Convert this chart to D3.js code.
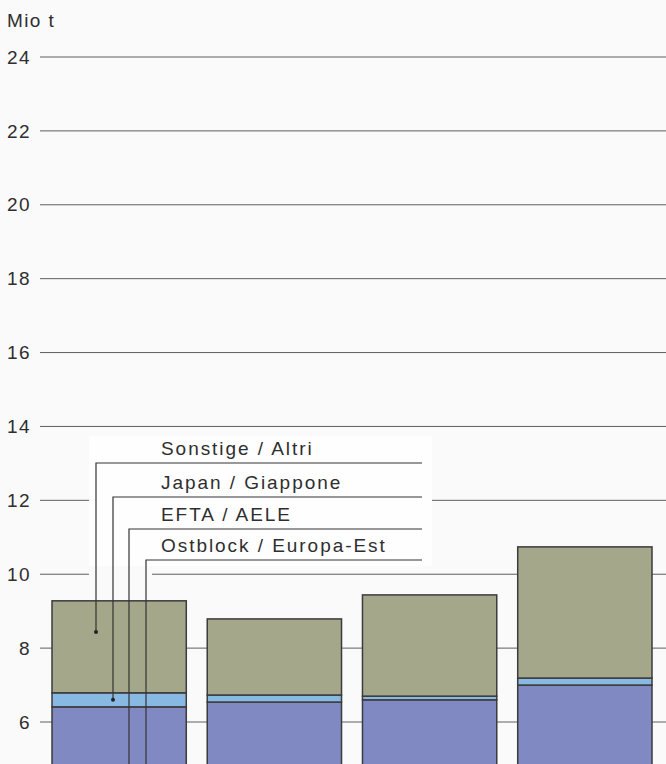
<!DOCTYPE html>
<html>
<head>
<meta charset="utf-8">
<script src="https://cdn.jsdelivr.net/npm/d3@7"></script>
<style>
  body { margin: 0; background: #fafafa; }
  svg { display: block; }
  text { font-family: "Liberation Sans", Arial, sans-serif; fill: #2e2e2e; }
</style>
</head>
<body>
<div id="chart"></div>
<script>
// data (the category labels are cut off in the picture)
var categories = ["1", "2", "3", "4"];
var unten    = [6.41, 6.54, 6.60, 7.00];   // EFTA + Ostblock (lower block)
var japan    = [0.38, 0.19, 0.10, 0.19];
var sonstige = [2.49, 2.06, 2.74, 3.55];
var yTicks = [6, 8, 10, 12, 14, 16, 18, 20, 22, 24];
var labels = ["Sonstige / Altri", "Japan / Giappone", "EFTA / AELE", "Ostblock / Europa-Est"];

var width = 666, height = 764;

var svg = d3.select("#chart").append("svg")
    .attr("width", width)
    .attr("height", height);

// scales
var x = d3.scaleBand().domain(categories).range([52, 652]).paddingInner(0.135);
var y = d3.scaleLinear().domain([6, 24]).range([722, 57]);

// stack
var rows = categories.map(function(c, i) {
  return {cat: c, unten: unten[i], japan: japan[i], sonstige: sonstige[i]};
});
var keys = ["unten", "japan", "sonstige"];
var colors = {unten: "#8189c2", japan: "#88b9e2", sonstige: "#a5a78a"};
var series = d3.stack().keys(keys)(rows);

// label block background
svg.append("rect")
    .attr("x", 89).attr("y", 436)
    .attr("width", 343).attr("height", 130)
    .attr("fill", "#fefefe");

// grid lines, with gaps where the label block sits
var gaps = {12: [89, 432], 10: [89, 152]};
yTicks.forEach(function(t) {
  var segs = gaps[t] ? [[40, gaps[t][0]], [gaps[t][1], width]] : [[40, width]];
  segs.forEach(function(s) {
    svg.append("line")
        .attr("x1", s[0]).attr("x2", s[1])
        .attr("y1", y(t)).attr("y2", y(t))
        .attr("stroke", "#5e5e5e")
        .attr("stroke-width", 1);
  });
  svg.append("text")
      .attr("x", 31).attr("y", y(t))
      .attr("dy", "0.35em")
      .attr("text-anchor", "end")
      .attr("font-size", 19)
      .attr("letter-spacing", 1.4)
      .text(t);
});

svg.append("text")
    .attr("x", 7).attr("y", 27)
    .attr("font-size", 19)
    .attr("letter-spacing", 1.4)
    .text("Mio t");

// bars
svg.selectAll("g.layer")
  .data(series)
  .enter().append("g")
    .attr("class", "layer")
    .attr("fill", function(d) { return colors[d.key]; })
  .selectAll("rect")
  .data(function(d) { return d; })
  .enter().append("rect")
    .attr("x", function(d) { return x(d.data.cat); })
    .attr("y", function(d) { return y(d[1]); })
    .attr("width", x.bandwidth())
    .attr("height", function(d) { return y(d[0]) - y(d[1]); })
    .attr("stroke", "#3b3b3b")
    .attr("stroke-width", 1.5);

// legend leaders into the first bar
var leaderX = [96, 113, 129, 146];
var leaderY = [463, 497, 529, 560];
var first = rows[0];
var dotY = [
  y(first.unten + first.japan + first.sonstige * 0.66),
  y(first.unten + first.japan / 2),
  height, height
];

labels.forEach(function(l, i) {
  svg.append("path")
      .attr("d", "M422," + leaderY[i] + "H" + leaderX[i] + "V" + dotY[i])
      .attr("fill", "none")
      .attr("stroke", "#333")
      .attr("stroke-width", 1.2);
  if (dotY[i] < height) {
    svg.append("circle")
        .attr("cx", leaderX[i]).attr("cy", dotY[i])
        .attr("r", 2).attr("fill", "#222");
  }
  svg.append("text")
      .attr("x", 161).attr("y", leaderY[i] - 8)
      .attr("font-size", 19)
      .attr("letter-spacing", 1.95)
      .text(l);
});
</script>
</body>
</html>
